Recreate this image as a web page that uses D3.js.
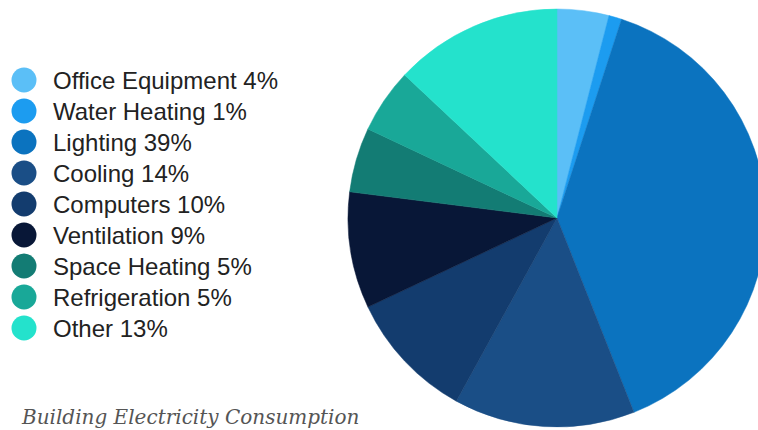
<!DOCTYPE html>
<html><head><meta charset="utf-8">
<script src="https://cdn.jsdelivr.net/npm/d3@7"></script>
<style>html,body{margin:0;padding:0;background:#fff;overflow:hidden}</style>
</head><body>
<svg id="chart" width="758" height="430"></svg>
<script>
const categories = ["Office Equipment","Water Heating","Lighting","Cooling","Computers","Ventilation","Space Heating","Refrigeration","Other"];
const values = [4,1,39,14,10,9,5,5,13];
const colors = ["#5bbff7","#1c9cf0","#0b73bf","#1a4e86","#133c6e","#081737","#137c74","#19a898","#24e2cc"];
const title = "Building Electricity Consumption";

const svg = d3.select("#chart");
const cx = 557, cy = 218, r = 209;

const data = categories.map((c,i)=>({name:c, value:values[i], color:colors[i]}));
const pie = d3.pie().value(d=>d.value).sort(null);
const arc = d3.arc().innerRadius(0).outerRadius(r);

svg.append("g").attr("transform",`translate(${cx},${cy})`)
  .selectAll("path").data(pie(data)).join("path")
  .attr("d",arc).attr("fill",d=>d.data.color)
  .attr("stroke",d=>d.data.color).attr("stroke-width",0.5);

const y = d3.scalePoint().domain(categories).range([80,328]);
const lg = svg.append("g");
lg.selectAll("circle").data(data).join("circle")
  .attr("cx",24).attr("cy",d=>y(d.name)).attr("r",12.5).attr("fill",d=>d.color);
lg.selectAll("text").data(data).join("text")
  .attr("x",53).attr("y",d=>y(d.name)).attr("dy","0.36em")
  .attr("font-family","Liberation Sans, Arial, sans-serif").attr("font-size",24)
  .attr("fill","#222")
  .text(d=>`${d.name} ${d.value}%`);

svg.append("text").attr("x",22).attr("y",424)
  .attr("font-family","DejaVu Serif, serif").attr("font-style","italic")
  .attr("font-size",20).attr("fill","#555").text(title);
</script>
</body></html>
